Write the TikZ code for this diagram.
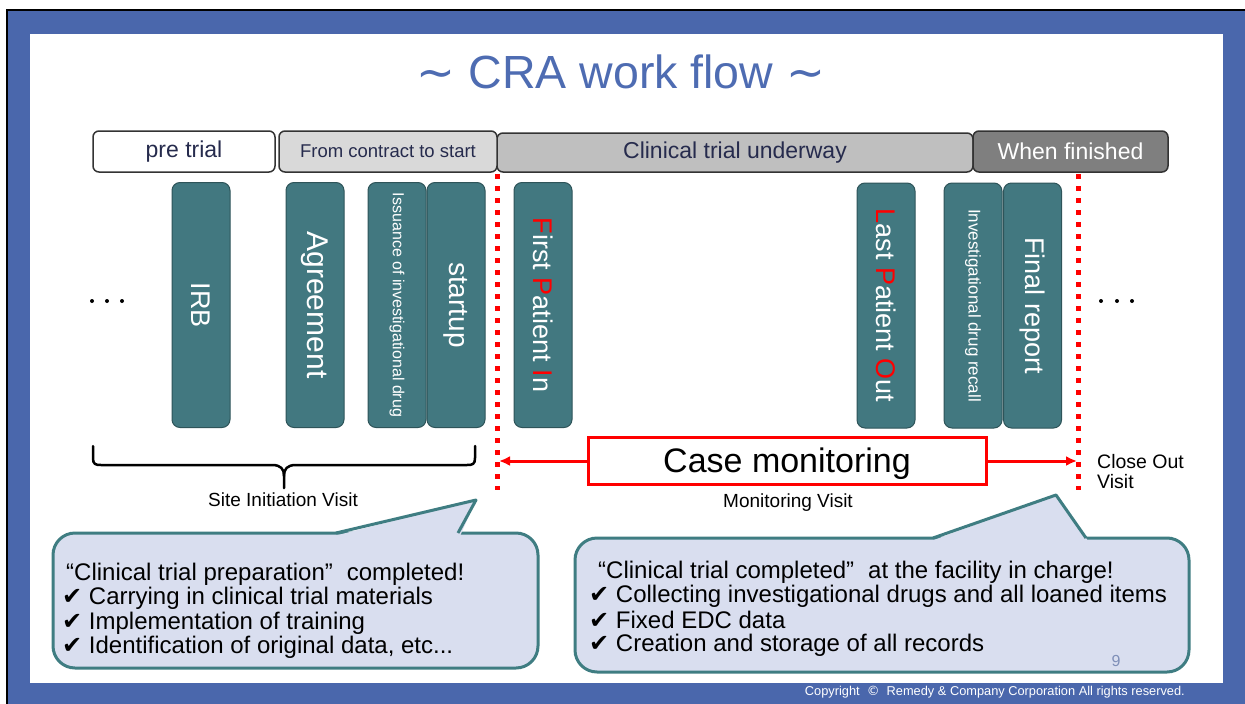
\documentclass[tikz,border=0pt]{standalone}
\usepackage{fontspec}
\setmainfont{Liberation Sans}
\newfontfamily\dejavu{DejaVu Sans}
\usetikzlibrary{arrows.meta}
\definecolor{frameblue}{HTML}{4A67AC}
\definecolor{titleblue}{HTML}{4E6CB2}
\definecolor{tealfill}{HTML}{427880}
\definecolor{tealdark}{HTML}{2E5459}
\definecolor{navytext}{HTML}{262B4D}
\definecolor{grayA}{HTML}{D9D9D9}
\definecolor{grayB}{HTML}{BFBFBF}
\definecolor{grayC}{HTML}{7F7F7F}
\definecolor{cfill}{HTML}{D9DEEF}
\definecolor{cborder}{HTML}{3F7D82}
\definecolor{pagenum}{HTML}{7F8FB8}
\definecolor{myred}{HTML}{FF0000}
\newcommand\fsz[1]{\fontsize{#1}{#1}\selectfont}
\newcommand\rd[1]{\textcolor{myred}{#1}}
\newcommand\ck{{\dejavu ✔}\ }
\begin{document}
\begin{tikzpicture}[x=1pt,y=-1pt,
  phase/.style={draw=black!80, line width=1.5pt, rounded corners=6pt, inner sep=0pt, font=\fsz{23}, text=navytext},
  bar/.style={rotate=-90, fill=tealfill, draw=tealdark, line width=1pt, rounded corners=8pt, minimum width=245pt, minimum height=58pt, inner sep=0pt, text=white, font=\fsz{27}},
  smallbar/.style={bar, font=\fsz{16}},
  reddots/.style={myred, line width=5pt, dash pattern=on 5pt off 7pt},
  redarrow/.style={myred, line width=3pt, -{Latex[length=11pt,width=10pt]}},
  callout/.style={fill=cfill, draw=cborder, line width=3pt, rounded corners=22pt, inner sep=0pt},
  ctext/.style={anchor=base west, inner sep=0pt, font=\fsz{24}, text=black},
  lbl/.style={inner sep=0pt, font=\fsz{19}, text=black},
  brace/.style={black, line width=2.5pt, line cap=round, line join=round}
]
\useasboundingbox (0,0) rectangle (1245,704);
% frame
\fill[white] (0,0) rectangle (1245,704);
\fill[frameblue] (8,11) rectangle (1245,704);
\draw[black, line width=2.5pt] (7,704) -- (7,10) -- (1245,10);
\fill[white] (30,34) rectangle (1223,683);

% title
\node[inner sep=0pt, text=titleblue, font=\fsz{46.5}] (title) at (621,72) {{\dejavu ∼} CRA work flow {\dejavu ∼}};

% phases
\node[phase, fill=grayB, minimum width=476pt, minimum height=39pt] (underway) at (735,152.5) {Clinical trial underway};
\node[phase, fill=white, minimum width=182pt, minimum height=41pt] (pretrial) at (184,151.5) {pre trial};
\node[phase, fill=grayA, minimum width=218pt, minimum height=41pt, font=\fsz{18.5}] (contract) at (388,151.5) {From contract to start};
\node[phase, fill=grayC, minimum width=195pt, minimum height=41pt, text=white] (finished) at (1070.5,151.5) {When finished};

% bars
\node[bar] (irb) at (201,305) {IRB};
\node[bar, font=\fsz{30}] (agree) at (315,305) {Agreement};
\node[smallbar] (issue) at (397,305) {Issuance of investigational drug};
\node[bar, font=\fsz{28}] (startup) at (456,305) {startup};
\node[bar] (fpi) at (543,305) {\rd{F}irst \rd{P}atient \rd{I}n};
\node[bar] (lpo) at (886,305.5) {\rd{L}ast \rd{P}atient \rd{O}ut};
\node[smallbar, font=\fsz{17}] (recall) at (973,305.5) {Investigational drug recall};
\node[bar] (final) at (1032.5,305.5) {Final report};

% dots
\foreach \x in {92,107,122,1101,1117,1132} \fill[black] (\x,301) circle (2pt);

% red dotted lines
\coordinate (d1top) at (497,174);
\coordinate (d1bot) at (497,490);
\coordinate (d2top) at (1078,174);
\coordinate (d2bot) at (1078,490);
\draw[reddots] (d1top) -- (d1bot);
\draw[reddots] (d2top) -- (d2bot);

% case monitoring
\node[draw=myred, line width=3pt, fill=white, minimum width=398pt, minimum height=47pt, inner sep=0pt, text depth=0pt, font=\fsz{34}] (case) at (787,460.5) {Case monitoring};
\coordinate (al) at (499,461);
\coordinate (ar) at (1077,461);
\draw[redarrow] (case.west |- al) -- (al);
\draw[redarrow] (case.east |- ar) -- (ar);

% brace
\draw[brace] (93,446) -- (93,458) .. controls (93,464) and (95,465) .. (101,465) -- (272,465) .. controls (281,465) and (284,469) .. (284,476) -- (284,488);
\draw[brace] (475,446) -- (475,458) .. controls (475,464) and (473,465) .. (467,465) -- (296,465) .. controls (287,465) and (284,469) .. (284,476);

% labels
\node[lbl] (siv) at (283,500) {Site Initiation Visit};
\node[lbl] (mv) at (788,503) {Monitoring Visit};
\node[lbl, anchor=west, align=left, font=\fsz{19.5}] (cov) at (1097,471.5) {Close Out\\[1pt]Visit};

% left callout
\node[callout, minimum width=485pt, minimum height=135pt] (cl) at (295.5,600.5) {};
\fill[cfill] (334,536) -- (476,500) -- (460,536) -- cycle;
\draw[cborder, line width=3pt, line join=round] (336,533) -- (476,500) -- (458,533);
\node[ctext] (l1) at (66,580) {“Clinical trial preparation”\hspace{14pt}completed!};
\node[ctext] (l2) at (62,604) {\ck Carrying in clinical trial materials};
\node[ctext] (l3) at (62,629) {\ck Implementation of training};
\node[ctext] (l4) at (62,653) {\ck Identification of original data, etc...};

% right callout
\node[callout, minimum width=614pt, minimum height=134pt] (cr) at (882,605) {};
\fill[cfill] (931,541) -- (1056,495) -- (1088,541) -- cycle;
\draw[cborder, line width=3pt, line join=round] (933,538) -- (1056,495) -- (1086,538);
\node[ctext] (r1) at (598,578) {“Clinical trial completed”\hspace{14pt}at the facility in charge!};
\node[ctext] (r2) at (589,602) {\ck Collecting investigational drugs and all loaned items};
\node[ctext] (r3) at (589,628) {\ck Fixed EDC data};
\node[ctext] (r4) at (589,651) {\ck Creation and storage of all records};
\node[inner sep=0pt, text=pagenum, font=\fsz{16}] (pg) at (1116,661) {9};

% copyright
\node[inner sep=0pt, anchor=east, text=white, font=\fsz{12.8}] (copy) at (1185,692) {Copyright \ {\dejavu ©}\ \ Remedy \& Company Corporation All rights reserved.};
\end{tikzpicture}
\end{document}
